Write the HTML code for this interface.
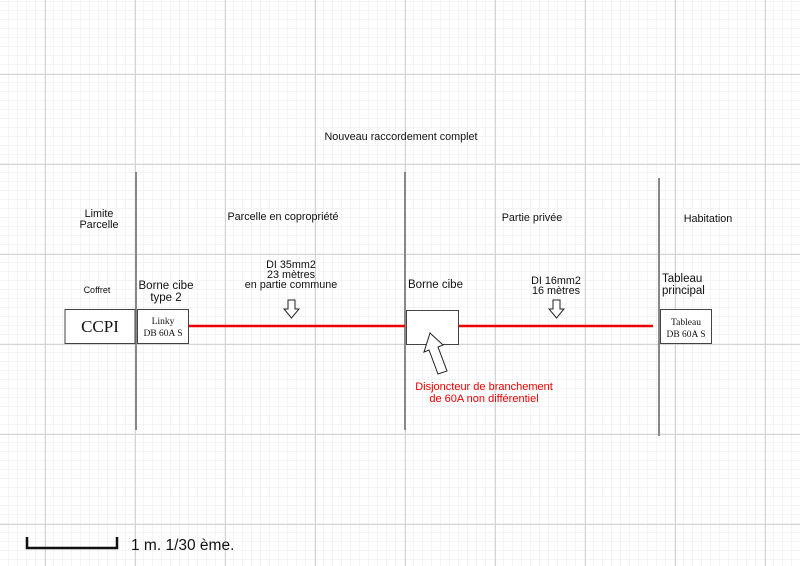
<!DOCTYPE html>
<html><head><meta charset="utf-8"><style>
html,body{margin:0;padding:0;background:#fff}
svg{display:block}
text{font-family:"Liberation Sans",sans-serif;font-size:10.8px;fill:#111}
.s{font-family:"Liberation Serif",serif}
</style></head><body>
<svg width="800" height="566" viewBox="0 0 800 566" xmlns="http://www.w3.org/2000/svg">
<defs>
<pattern id="mn" width="9" height="9" patternUnits="userSpaceOnUse" x="0" y="2">
<path d="M9 0V9M0 9H9" stroke="#e8e8e8" stroke-width="1" fill="none"/>
</pattern>
<pattern id="mj" width="90" height="90" patternUnits="userSpaceOnUse" x="45" y="74">
<path d="M0.5 0V90M0 0.5H90" stroke="#d4d4d4" stroke-width="1" fill="none"/>
</pattern>
</defs>
<rect width="800" height="566" fill="url(#mn)"/>
<rect width="800" height="566" fill="url(#mj)"/>

<text x="401" y="140" text-anchor="middle">Nouveau raccordement complet</text>
<text x="99" y="217" text-anchor="middle">Limite</text>
<text x="99" y="228" text-anchor="middle">Parcelle</text>
<text x="283" y="220" text-anchor="middle">Parcelle en copropriété</text>
<text x="532" y="221" text-anchor="middle">Partie privée</text>
<text x="708" y="222" text-anchor="middle">Habitation</text>

<line x1="136" y1="172" x2="136" y2="430" stroke="#888" stroke-width="2"/>
<line x1="405" y1="172" x2="405" y2="430" stroke="#888" stroke-width="2"/>
<line x1="659" y1="178" x2="659" y2="436" stroke="#888" stroke-width="2"/>

<text x="97" y="293" text-anchor="middle" style="font-size:9px">Coffret</text>
<text x="166" y="289" text-anchor="middle" style="font-size:11.5px">Borne cibe</text>
<text x="166" y="301" text-anchor="middle" style="font-size:11.5px">type 2</text>
<text x="291" y="268" text-anchor="middle">DI 35mm2</text>
<text x="291" y="278" text-anchor="middle">23 mètres</text>
<text x="291" y="288" text-anchor="middle">en partie commune</text>
<text x="408" y="288" style="font-size:11.5px">Borne cibe</text>
<text x="556" y="284" text-anchor="middle">DI 16mm2</text>
<text x="556" y="294" text-anchor="middle">16 mètres</text>
<text x="662" y="282" style="font-size:11.5px">Tableau</text>
<text x="662" y="294" style="font-size:11.5px">principal</text>

<line x1="189" y1="326" x2="405" y2="326" stroke="#e00" stroke-width="2.5"/>
<line x1="459" y1="326" x2="653" y2="326" stroke="#e00" stroke-width="2.5"/>

<rect x="65" y="309.5" width="70" height="34" fill="#fff" stroke="#444"/>
<text x="100" y="332" text-anchor="middle" class="s" style="font-size:17px">CCPI</text>
<rect x="137.5" y="309.5" width="51" height="34" fill="#fff" stroke="#444"/>
<text x="163" y="324" text-anchor="middle" class="s" style="font-size:9.5px">Linky</text>
<text x="163" y="336" text-anchor="middle" class="s" style="font-size:9.5px">DB 60A S</text>
<rect x="406.5" y="310.5" width="52" height="34" fill="#fff" stroke="#444"/>
<rect x="660.5" y="309.5" width="51" height="34" fill="#fff" stroke="#444"/>
<text x="686" y="325" text-anchor="middle" class="s" style="font-size:9.5px">Tableau</text>
<text x="686" y="337" text-anchor="middle" class="s" style="font-size:9.5px">DB 60A S</text>

<polygon points="288,300 295,300 295,309 299,309 291.5,318 284,309 288,309" fill="#fff" stroke="#222"/>
<polygon points="553,300 560,300 560,309 564,309 556.5,318 549,309 553,309" fill="#fff" stroke="#222"/>
<polygon points="430,333 443,345 438,347 447,371 438,374 429,350 424,352" fill="#fff" stroke="#222"/>

<text x="484" y="390" text-anchor="middle" style="fill:#e00;font-size:11px">Disjoncteur de branchement</text>
<text x="484" y="402" text-anchor="middle" style="fill:#e00;font-size:11px">de 60A non différentiel</text>

<path d="M27 537V548H117V537" fill="none" stroke="#111" stroke-width="2.5"/>
<text x="131" y="550" style="font-size:15.5px">1 m. 1/30 ème.</text>
</svg>
</body></html>
